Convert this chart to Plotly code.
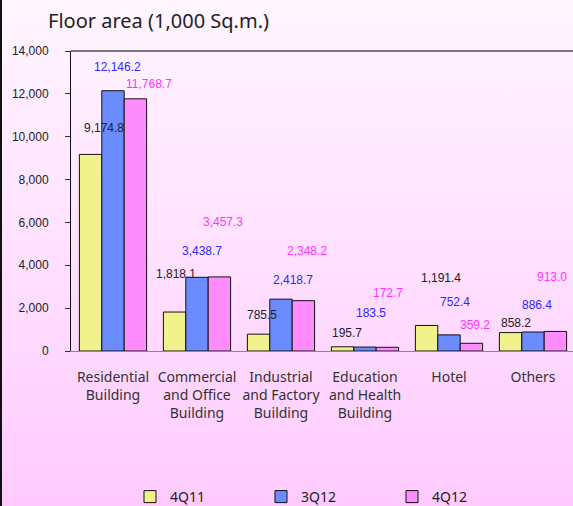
import base64
import plotly.graph_objects as go

categories = ["Residential<br>Building", "Commercial<br>and Office<br>Building",
              "Industrial<br>and Factory<br>Building", "Education<br>and Health<br>Building",
              "Hotel", "Others"]
series_names = ["4Q11", "3Q12", "4Q12"]
v_4q11 = [9174.8, 1818.1, 785.5, 195.7, 1191.4, 858.2]
v_3q12 = [12146.2, 3438.7, 2418.7, 183.5, 752.4, 886.4]
v_4q12 = [11768.7, 3457.3, 2348.2, 172.7, 359.2, 913.0]
y_ticks = [0, 2000, 4000, 6000, 8000, 10000, 12000, 14000]

# styling
W, H = 573, 506
ML, MR, MT, MB = 71, 0, 51, 155
PW, PH = W - ML - MR, H - MT - MB
colors = ["#F2F28C", "#6A8CFF", "#FF8CFF"]
label_colors = ["#222222", "#2A2AFF", "#FF33FF"]
# label offsets in px (dx right, dy up) relative to bar top centre
label_dx = [[13, 1, 3, 4, 14, 5], [4, 5, 12, 6, 6, 4], [14, 4, 4, 1, 4, -3]]
label_dy = [[26, 38, 19, 14, 47, 10], [24, 26, 19, 34, 33, 27], [15, 55, 50, 54, 18, 54]]
bar_shift = [-22.4, 0, 22.4]

fig = go.Figure()
all_vals = [v_4q11, v_3q12, v_4q12]
for i, (name, vals) in enumerate(zip(series_names, all_vals)):
    fig.add_trace(go.Bar(x=categories, y=vals, name=name,
                         marker=dict(color=colors[i], line=dict(color="#111111", width=1))))
    for j, v in enumerate(vals):
        fig.add_annotation(x=categories[j], y=v, xref="x", yref="y",
                           text=f"{v:,.1f}", showarrow=False,
                           xshift=bar_shift[i] + label_dx[i][j], yshift=label_dy[i][j],
                           font=dict(family="Liberation Sans, Arial", size=12, color=label_colors[i]),
                           xanchor="center", yanchor="middle")

svg = ('<svg xmlns="http://www.w3.org/2000/svg" width="100" height="100" preserveAspectRatio="none">'
       '<defs><linearGradient id="g" x1="0" y1="0" x2="0" y2="1">'
       '<stop offset="0" stop-color="#FFF6FF"/><stop offset="1" stop-color="#FFCBFF"/>'
       '</linearGradient></defs><rect width="100" height="100" fill="url(#g)"/></svg>')
src = "data:image/svg+xml;base64," + base64.b64encode(svg.encode()).decode()

fig.update_layout(
    width=W, height=H,
    margin=dict(l=ML, r=MR, t=MT, b=MB, pad=0, autoexpand=False),
    paper_bgcolor="#FFE6FF",
    plot_bgcolor="#FCDFC6",
    barmode="group", bargap=0.2, bargroupgap=0,
    title=dict(text="Floor area (1,000 Sq.m.)", xref="container", yref="container",
               x=48 / W, xanchor="left", y=1 - 21 / H, yanchor="middle",
               font=dict(family="Noto Sans", size=20, color="#222222")),
    images=[dict(source=src, xref="paper", yref="paper", x=-ML / PW, y=1 + MT / PH,
                 sizex=W / PW, sizey=H / PH, xanchor="left", yanchor="top",
                 sizing="stretch", layer="below")],
    shapes=[dict(type="rect", xref="paper", yref="paper", x0=-ML / PW, x1=-(ML - 2) / PW,
                 y0=-MB / PH, y1=1 + MT / PH, fillcolor="#111111", line=dict(width=0)),
            dict(type="line", xref="paper", yref="paper", x0=0, x1=1, y0=1, y1=1,
                 line=dict(color="#777777", width=2))],
    legend=dict(orientation="h", x=(130 - ML) / PW, xanchor="left",
                y=(351 - 497) / PH, yanchor="middle", entrywidth=86, entrywidthmode="pixels",
                font=dict(family="Noto Sans", size=14, color="#222222"),
                bgcolor="rgba(0,0,0,0)"),
    showlegend=True,
)
fig.update_xaxes(range=[-0.5, -0.5 + PW / 84.0], showline=True, linecolor="#888888", linewidth=1,
                 ticks="", showgrid=False, tickangle=0, ticklabelstandoff=13,
                 tickfont=dict(family="Noto Sans", size=14, color="#333333"))
fig.update_yaxes(range=[0, 14000], tickvals=y_ticks, tickformat=",d", showline=True,
                 linecolor="#111111", linewidth=1, ticks="outside", ticklen=5, tickcolor="#333333",
                 showgrid=False, zeroline=False, ticklabelstandoff=14,
                 tickfont=dict(family="Liberation Sans, Arial", size=12, color="#222222"))

fig.write_html("out.html", config={"displayModeBar": False},
               post_script="document.body.style.margin='0';document.body.style.overflow='hidden';")
